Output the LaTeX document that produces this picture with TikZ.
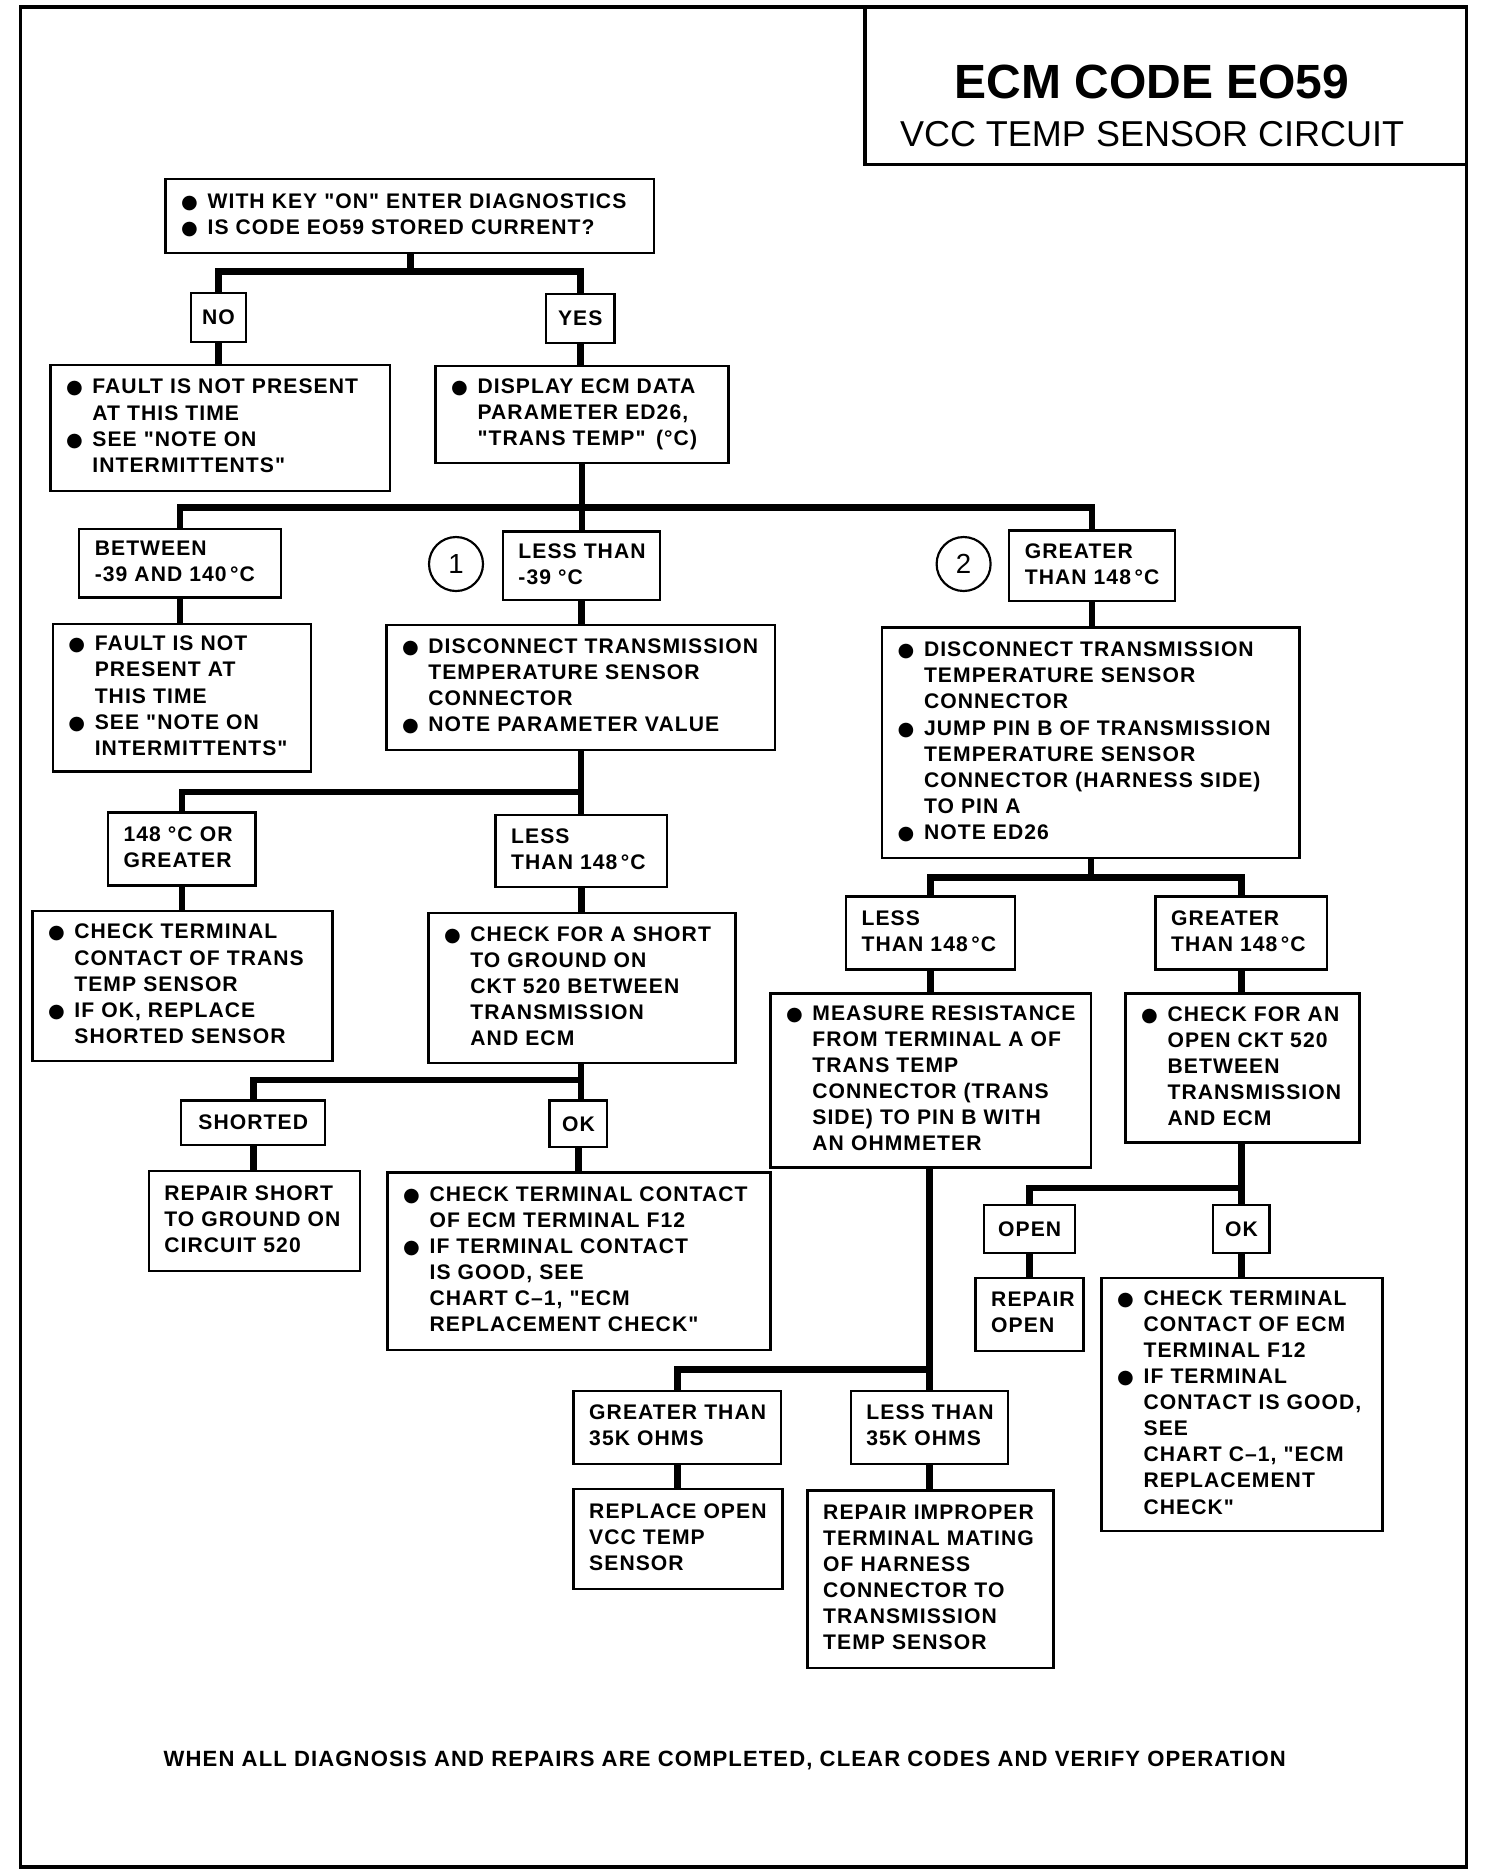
\documentclass[tikz,border=0pt]{standalone}
\usepackage{fontspec}
\setmainfont{Liberation Sans}
\newfontfamily\boxfam{Liberation Sans}[LetterSpace=5]
\newfontfamily\dotfam{DejaVu Sans}
\newcommand{\boxtext}{\boxfam\bfseries\fontsize{17.6}{21.7}\selectfont}
\newcommand{\bul}{\makebox[22pt][l]{\dotfam\fontsize{16}{16}\selectfont ●}}
\newcommand{\ind}{\hspace*{22pt}}
\newcommand{\rows}[1]{\begin{tabular}{@{}l@{}}#1\end{tabular}}

\begin{document}
\begin{tikzpicture}
    [x=1pt, y=-1pt,
     box/.style={draw, line width=2pt, anchor=north west, inner xsep=13pt, inner ysep=0pt,
       font=\boxtext, align=left},
     tag/.style={draw, line width=2pt, anchor=north, inner sep=0pt, font=\boxtext},
     link/.style={line width=5.5pt},
     num/.style={draw, circle, line width=1.8pt, minimum size=45pt, inner sep=0pt,
       font=\fontsize{23}{23}\selectfont}]
    \useasboundingbox (0,0) rectangle (1240,1558.3);
    \draw[line width=3pt] (17,6) rectangle (1222,1556);
    \draw[line width=3pt] (721,6) |- (1222,137);
    \node[anchor=base, font=\bfseries\fontsize{40}{40}\selectfont] (title) at (960,82) {ECM CODE EO59};
    \node[anchor=base, font=\fontsize{30}{30}\selectfont] (subtitle) at (960,122) {VCC TEMP SENSOR CIRCUIT};

    % left branch
    \node[box, text width=381pt, minimum height=62pt] (start) at (137,148)
      {\rows{\bul WITH KEY "ON" ENTER DIAGNOSTICS\\ \bul IS CODE EO59 STORED CURRENT?}};
    \node[tag, minimum width=46pt, minimum height=41pt] (no) at (182,243) {NO};
    \node[tag, minimum width=57pt, minimum height=41pt] (yes) at (483.5,244) {YES};
    \node[box, text width=257pt, minimum height=105pt] (fault1) at (41,303)
      {\rows{\bul FAULT IS NOT PRESENT\\ \ind AT THIS TIME\\ \bul SEE "NOTE ON\\ \ind INTERMITTENTS"}};
    \node[box, text width=218pt, minimum height=81pt] (display) at (362,304)
      {\rows{\bul DISPLAY ECM DATA\\ \ind PARAMETER ED26,\\ \ind "TRANS TEMP" \,(°C)}};
    \node[box, text width=142pt, minimum height=57pt] (between) at (65,440)
      {\rows{BETWEEN\\ -39 AND 140\,°C}};
    \node[num] (one) at (380,470) {1};
    \node[box, text width=105pt, minimum height=57pt] (less1) at (418,442)
      {\rows{LESS THAN\\ -39 °C}};
    \node[num] (two) at (803,470) {2};
    \node[box, text width=112pt, minimum height=59pt] (greater1) at (840,441)
      {\rows{GREATER\\ THAN 148\,°C}};
    \node[box, text width=189pt, minimum height=123pt] (fault2) at (43,519)
      {\rows{\bul FAULT IS NOT\\ \ind PRESENT AT\\ \ind THIS TIME\\ \bul SEE "NOTE ON\\ \ind INTERMITTENTS"}};
    \node[box, text width=298pt, minimum height=104pt] (disc1) at (321,520)
      {\rows{\bul DISCONNECT TRANSMISSION\\ \ind TEMPERATURE SENSOR\\ \ind CONNECTOR\\ \bul NOTE PARAMETER VALUE}};
    \node[box, text width=97pt, minimum height=61pt] (box148) at (89,676)
      {\rows{148 °C OR\\ GREATER}};
    \node[box, text width=117pt, minimum height=60pt] (less2) at (412,678)
      {\rows{LESS\\ THAN 148\,°C}};
    \node[box, text width=224pt, minimum height=125pt] (check1) at (26,758)
      {\rows{\bul CHECK TERMINAL\\ \ind CONTACT OF TRANS\\ \ind TEMP SENSOR\\ \bul IF OK, REPLACE\\ \ind SHORTED SENSOR}};
    \node[box, text width=230pt, minimum height=125pt] (shortchk) at (356,760)
      {\rows{\bul CHECK FOR A SHORT\\ \ind TO GROUND ON\\ \ind CKT 520 BETWEEN\\ \ind TRANSMISSION\\ \ind AND ECM}};
    \node[tag, minimum width=120pt, minimum height=37pt] (shorted) at (211,916) {SHORTED};
    \node[tag, minimum width=48pt, minimum height=39pt] (ok1) at (482,916) {OK};
    \node[box, text width=150pt, minimum height=83pt] (repairshort) at (123,975)
      {\rows{REPAIR SHORT\\ TO GROUND ON\\ CIRCUIT 520}};
    \node[box, text width=293pt, minimum height=148pt] (check2) at (322,976)
      {\rows{\bul CHECK TERMINAL CONTACT\\ \ind OF ECM TERMINAL F12\\ \bul IF TERMINAL CONTACT\\ \ind IS GOOD, SEE\\ \ind CHART C–1, "ECM\\ \ind REPLACEMENT CHECK"}};

    % right branch
    \node[box, text width=322pt, minimum height=192pt] (disc2) at (734,522)
      {\rows{\bul DISCONNECT TRANSMISSION\\ \ind TEMPERATURE SENSOR\\ \ind CONNECTOR\\ \bul JUMP PIN B OF TRANSMISSION\\ \ind TEMPERATURE SENSOR\\ \ind CONNECTOR (HARNESS SIDE)\\ \ind TO PIN A\\ \bul NOTE ED26}};
    \node[box, text width=115pt, minimum height=61pt] (less3) at (704,746)
      {\rows{LESS\\ THAN 148\,°C}};
    \node[box, text width=117pt, minimum height=61pt] (greater3) at (962,746)
      {\rows{GREATER\\ THAN 148\,°C}};
    \node[box, text width=241pt, minimum height=145pt] (measure) at (641,827)
      {\rows{\bul MEASURE RESISTANCE\\ \ind FROM TERMINAL A OF\\ \ind TRANS TEMP\\ \ind CONNECTOR (TRANS\\ \ind SIDE) TO PIN B WITH\\ \ind AN OHMMETER}};
    \node[box, text width=169pt, minimum height=124pt] (checkopen) at (937,827)
      {\rows{\bul CHECK FOR AN\\ \ind OPEN CKT 520\\ \ind BETWEEN\\ \ind TRANSMISSION\\ \ind AND ECM}};
    \node[tag, minimum width=76pt, minimum height=40pt] (open) at (858,1003) {OPEN};
    \node[tag, minimum width=47pt, minimum height=40pt] (ok2) at (1034.5,1003) {OK};
    \node[box, text width=64pt, minimum height=61pt] (repairopen) at (812,1064)
      {\rows{REPAIR\\ OPEN}};
    \node[box, text width=208pt, minimum height=211pt] (check3) at (917,1064)
      {\rows{\bul CHECK TERMINAL\\ \ind CONTACT OF ECM\\ \ind TERMINAL F12\\ \bul IF TERMINAL\\ \ind CONTACT IS GOOD,\\ \ind SEE\\ \ind CHART C–1, "ECM\\ \ind REPLACEMENT\\ \ind CHECK"}};
    \node[box, text width=147pt, minimum height=61pt] (greater35) at (477,1158)
      {\rows{GREATER THAN\\ 35K OHMS}};
    \node[box, text width=105pt, minimum height=61pt] (less35) at (708,1158)
      {\rows{LESS THAN\\ 35K OHMS}};
    \node[box, text width=148pt, minimum height=83pt] (replace) at (477,1240)
      {\rows{REPLACE OPEN\\ VCC TEMP\\ SENSOR}};
    \node[box, text width=179pt, minimum height=148pt] (repairimp) at (672,1241)
      {\rows{REPAIR IMPROPER\\ TERMINAL MATING\\ OF HARNESS\\ CONNECTOR TO\\ TRANSMISSION\\ TEMP SENSOR}};

    \node[anchor=base, font=\boxfam\bfseries\fontsize{18.4}{18.4}\selectfont] (footer) at (604,1472)
      {WHEN ALL DIAGNOSIS AND REPAIRS ARE COMPLETED, CLEAR CODES AND VERIFY OPERATION};

    % connectors
    \coordinate (j1) at (342,226);
    \draw[link] (start.south -| j1) -- (j1);
    \draw[link] (no.north) |- (j1) -| (yes.north);
    \draw[link] (no.south) -- (no.south |- fault1.north);
    \draw[link] (yes.south) -- (yes.south |- display.north);
    \coordinate (j2) at (484,423);
    \draw[link] (display.south) -- (display.south |- less1.north);
    \draw[link] (between.north) |- (j2) -| (greater1.north);
    \draw[link] (between.south) -- (between.south |- fault2.north);
    \draw[link] (less1.south) -- (less1.south |- disc1.north);
    \draw[link] (greater1.south) -- (greater1.south |- disc2.north);
    \coordinate (j3) at (484,660);
    \draw[link] (disc1.south -| j3) -- (less2.north -| j3);
    \draw[link] (box148.north) |- (j3);
    \draw[link] (box148.south) -- (box148.south |- check1.north);
    \draw[link] (less2.south) -- (less2.south |- shortchk.north);
    \coordinate (j4) at (484,900);
    \draw[link] (shortchk.south -| j4) -- (ok1.north -| j4);
    \draw[link] (shorted.north) |- (j4);
    \draw[link] (shorted.south) -- (shorted.south |- repairshort.north);
    \draw[link] (ok1.south) -- (ok1.south |- check2.north);
    \coordinate (j5) at (908,731);
    \draw[link] (disc2.south) -- (disc2.south |- j5);
    \draw[link] (less3.north) |- (j5) -| (greater3.north);
    \draw[link] (less3.south) -- (less3.south |- measure.north);
    \draw[link] (greater3.south) -- (greater3.south |- checkopen.north);
    \coordinate (j6) at (1034.5,990);
    \draw[link] (checkopen.south -| j6) -- (ok2.north -| j6);
    \draw[link] (open.north) |- (j6);
    \draw[link] (open.south) -- (open.south |- repairopen.north);
    \draw[link] (ok2.south) -- (ok2.south |- check3.north);
    \coordinate (j7) at (774.5,1141);
    \draw[link] (measure.south -| j7) -- (less35.north -| j7);
    \draw[link] (greater35.north) |- (j7);
    \draw[link] (greater35.south) -- (greater35.south |- replace.north);
    \draw[link] (less35.south) -- (less35.south |- repairimp.north);
  \end{tikzpicture}
\end{document}
